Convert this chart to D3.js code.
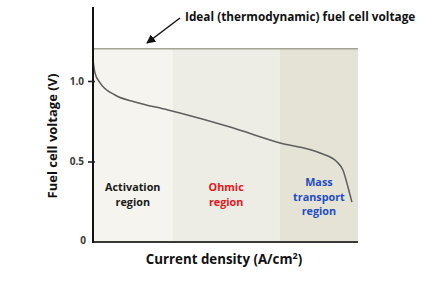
<!DOCTYPE html>
<html>
<head>
<meta charset="utf-8">
<script src="https://cdn.jsdelivr.net/npm/d3@7"></script>
<style>
  body { margin: 0; background: #fff; }
  svg { display: block; font-family: "Open Sans", Lato, sans-serif; }
</style>
</head>
<body>
<div id="chart"></div>
<script>
// polarisation curve (current density is unitless 0..1)
var current = [0, 0.0075, 0.026, 0.083, 0.158, 0.283, 0.328, 0.517, 0.706, 0.857, 0.921, 0.943, 0.962, 0.977];
var voltage = [1.13, 1.05, 0.99, 0.913, 0.87, 0.82, 0.801, 0.714, 0.615, 0.553, 0.497, 0.447, 0.342, 0.248];

var idealVoltage = 1.2;

var regionNames = ["Activation region", "Ohmic region", "Mass transport region"];
var regionStart = [0, 0.3, 0.705];
var regionEnd = [0.3, 0.705, 1];
var regionFill = ["#f5f4ee", "#eeede5", "#e4e3d6"];
var regionText = ["#1a1a1a", "#e8161b", "#1f4cc4"];
var regionLines = [["Activation", "region"], ["Ohmic", "region"], ["Mass", "transport", "region"]];

var yTicks = [0, 0.5, 1.0];
var yTickLabels = ["0", "0.5", "1.0"];

var width = 429, height = 301;
var margin = {top: 7, left: 93, right: 71, bottom: 59};

var svg = d3.select("#chart").append("svg")
  .attr("width", width)
  .attr("height", height);

var x = d3.scaleLinear().domain([0, 1]).range([margin.left, width - margin.right]);
var y = d3.scaleLinear().domain([0, 1]).range([height - margin.bottom, 81]);

// shaded regions
svg.selectAll(".region")
  .data(regionNames)
  .enter().append("rect")
  .attr("class", "region")
  .attr("x", function(d, i) { return x(regionStart[i]); })
  .attr("y", y(idealVoltage))
  .attr("width", function(d, i) { return x(regionEnd[i]) - x(regionStart[i]); })
  .attr("height", y(0) - y(idealVoltage))
  .attr("fill", function(d, i) { return regionFill[i]; });

// ideal voltage line
svg.append("line")
  .attr("x1", x(0)).attr("x2", x(1))
  .attr("y1", y(idealVoltage)).attr("y2", y(idealVoltage))
  .attr("stroke", "#a4a496")
  .attr("stroke-width", 1.6);

// region labels
regionLines.forEach(function(lines, i) {
  var cx = (x(regionStart[i]) + x(regionEnd[i])) / 2;
  var y0 = lines.length == 3 ? 186 : 191;
  var t = svg.append("text")
    .attr("text-anchor", "middle")
    .attr("font-size", 10.8)
    .attr("font-weight", "bold")
    .attr("fill", regionText[i]);
  lines.forEach(function(s, j) {
    t.append("tspan").attr("x", cx).attr("y", y0 + j * 14.5).text(s);
  });
});

// curve
var line = d3.line()
  .x(function(d) { return x(d[0]); })
  .y(function(d) { return y(d[1]); })
  .curve(d3.curveMonotoneX);

svg.append("path")
  .datum(d3.zip(current, voltage))
  .attr("fill", "none")
  .attr("stroke", "#5e5e5e")
  .attr("stroke-width", 1.5)
  .attr("d", line);

// axes
svg.append("line")
  .attr("x1", x(0)).attr("x2", x(1))
  .attr("y1", y(0)).attr("y2", y(0))
  .attr("stroke", "#3a3a3a")
  .attr("stroke-width", 2.2);

svg.append("line")
  .attr("x1", x(0)).attr("x2", x(0))
  .attr("y1", margin.top).attr("y2", y(0) + 1)
  .attr("stroke", "#111")
  .attr("stroke-width", 2);

var yAxis = d3.axisLeft(y)
  .tickValues(yTicks.slice(1))
  .tickSize(4)
  .tickFormat(function(d) { return yTickLabels[yTicks.indexOf(d)]; });

var ya = svg.append("g")
  .attr("transform", "translate(" + (x(0) + 2) + ",0)")
  .call(yAxis);
ya.select(".domain").remove();
ya.selectAll(".tick line").attr("stroke", "#222").attr("stroke-width", 1.6).attr("x2", -7);
ya.selectAll(".tick text")
  .attr("x", -11)
  .attr("font-family", "Open Sans, sans-serif")
  .attr("font-size", 10)
  .attr("font-weight", "bold")
  .attr("fill", "#3a3a3a");

svg.append("text")
  .attr("x", 86).attr("y", y(0) + 2)
  .attr("text-anchor", "end")
  .attr("font-size", 10)
  .attr("font-weight", "bold")
  .attr("fill", "#3a3a3a")
  .text(yTickLabels[0]);

// axis titles
svg.append("text")
  .attr("transform", "translate(57,136) rotate(-90)")
  .attr("text-anchor", "middle")
  .attr("font-size", 13)
  .attr("font-weight", "bold")
  .attr("fill", "#111")
  .text("Fuel cell voltage (V)");

var xt = svg.append("text")
  .attr("x", 224).attr("y", 264)
  .attr("text-anchor", "middle")
  .attr("font-size", 13.3)
  .attr("font-weight", "bold")
  .attr("fill", "#111")
  .text("Current density (A/cm");
xt.append("tspan").attr("font-size", 9).attr("dy", -5).text("2");
xt.append("tspan").attr("dy", 5).text(")");

// annotation
svg.append("defs").append("marker")
  .attr("id", "arrow")
  .attr("viewBox", "0 0 10 10")
  .attr("refX", 9).attr("refY", 5)
  .attr("markerWidth", 6).attr("markerHeight", 6)
  .attr("orient", "auto")
  .append("path")
  .attr("d", "M0,0 L10,5 L0,10 z")
  .attr("fill", "#111");

svg.append("line")
  .attr("x1", 180).attr("y1", 18)
  .attr("x2", 147).attr("y2", 43)
  .attr("stroke", "#111")
  .attr("stroke-width", 1.5)
  .attr("marker-end", "url(#arrow)");

svg.append("text")
  .attr("x", 185).attr("y", 21)
  .attr("font-size", 11.8)
  .attr("font-weight", "bold")
  .attr("fill", "#111")
  .text("Ideal (thermodynamic) fuel cell voltage");
</script>
</body>
</html>
